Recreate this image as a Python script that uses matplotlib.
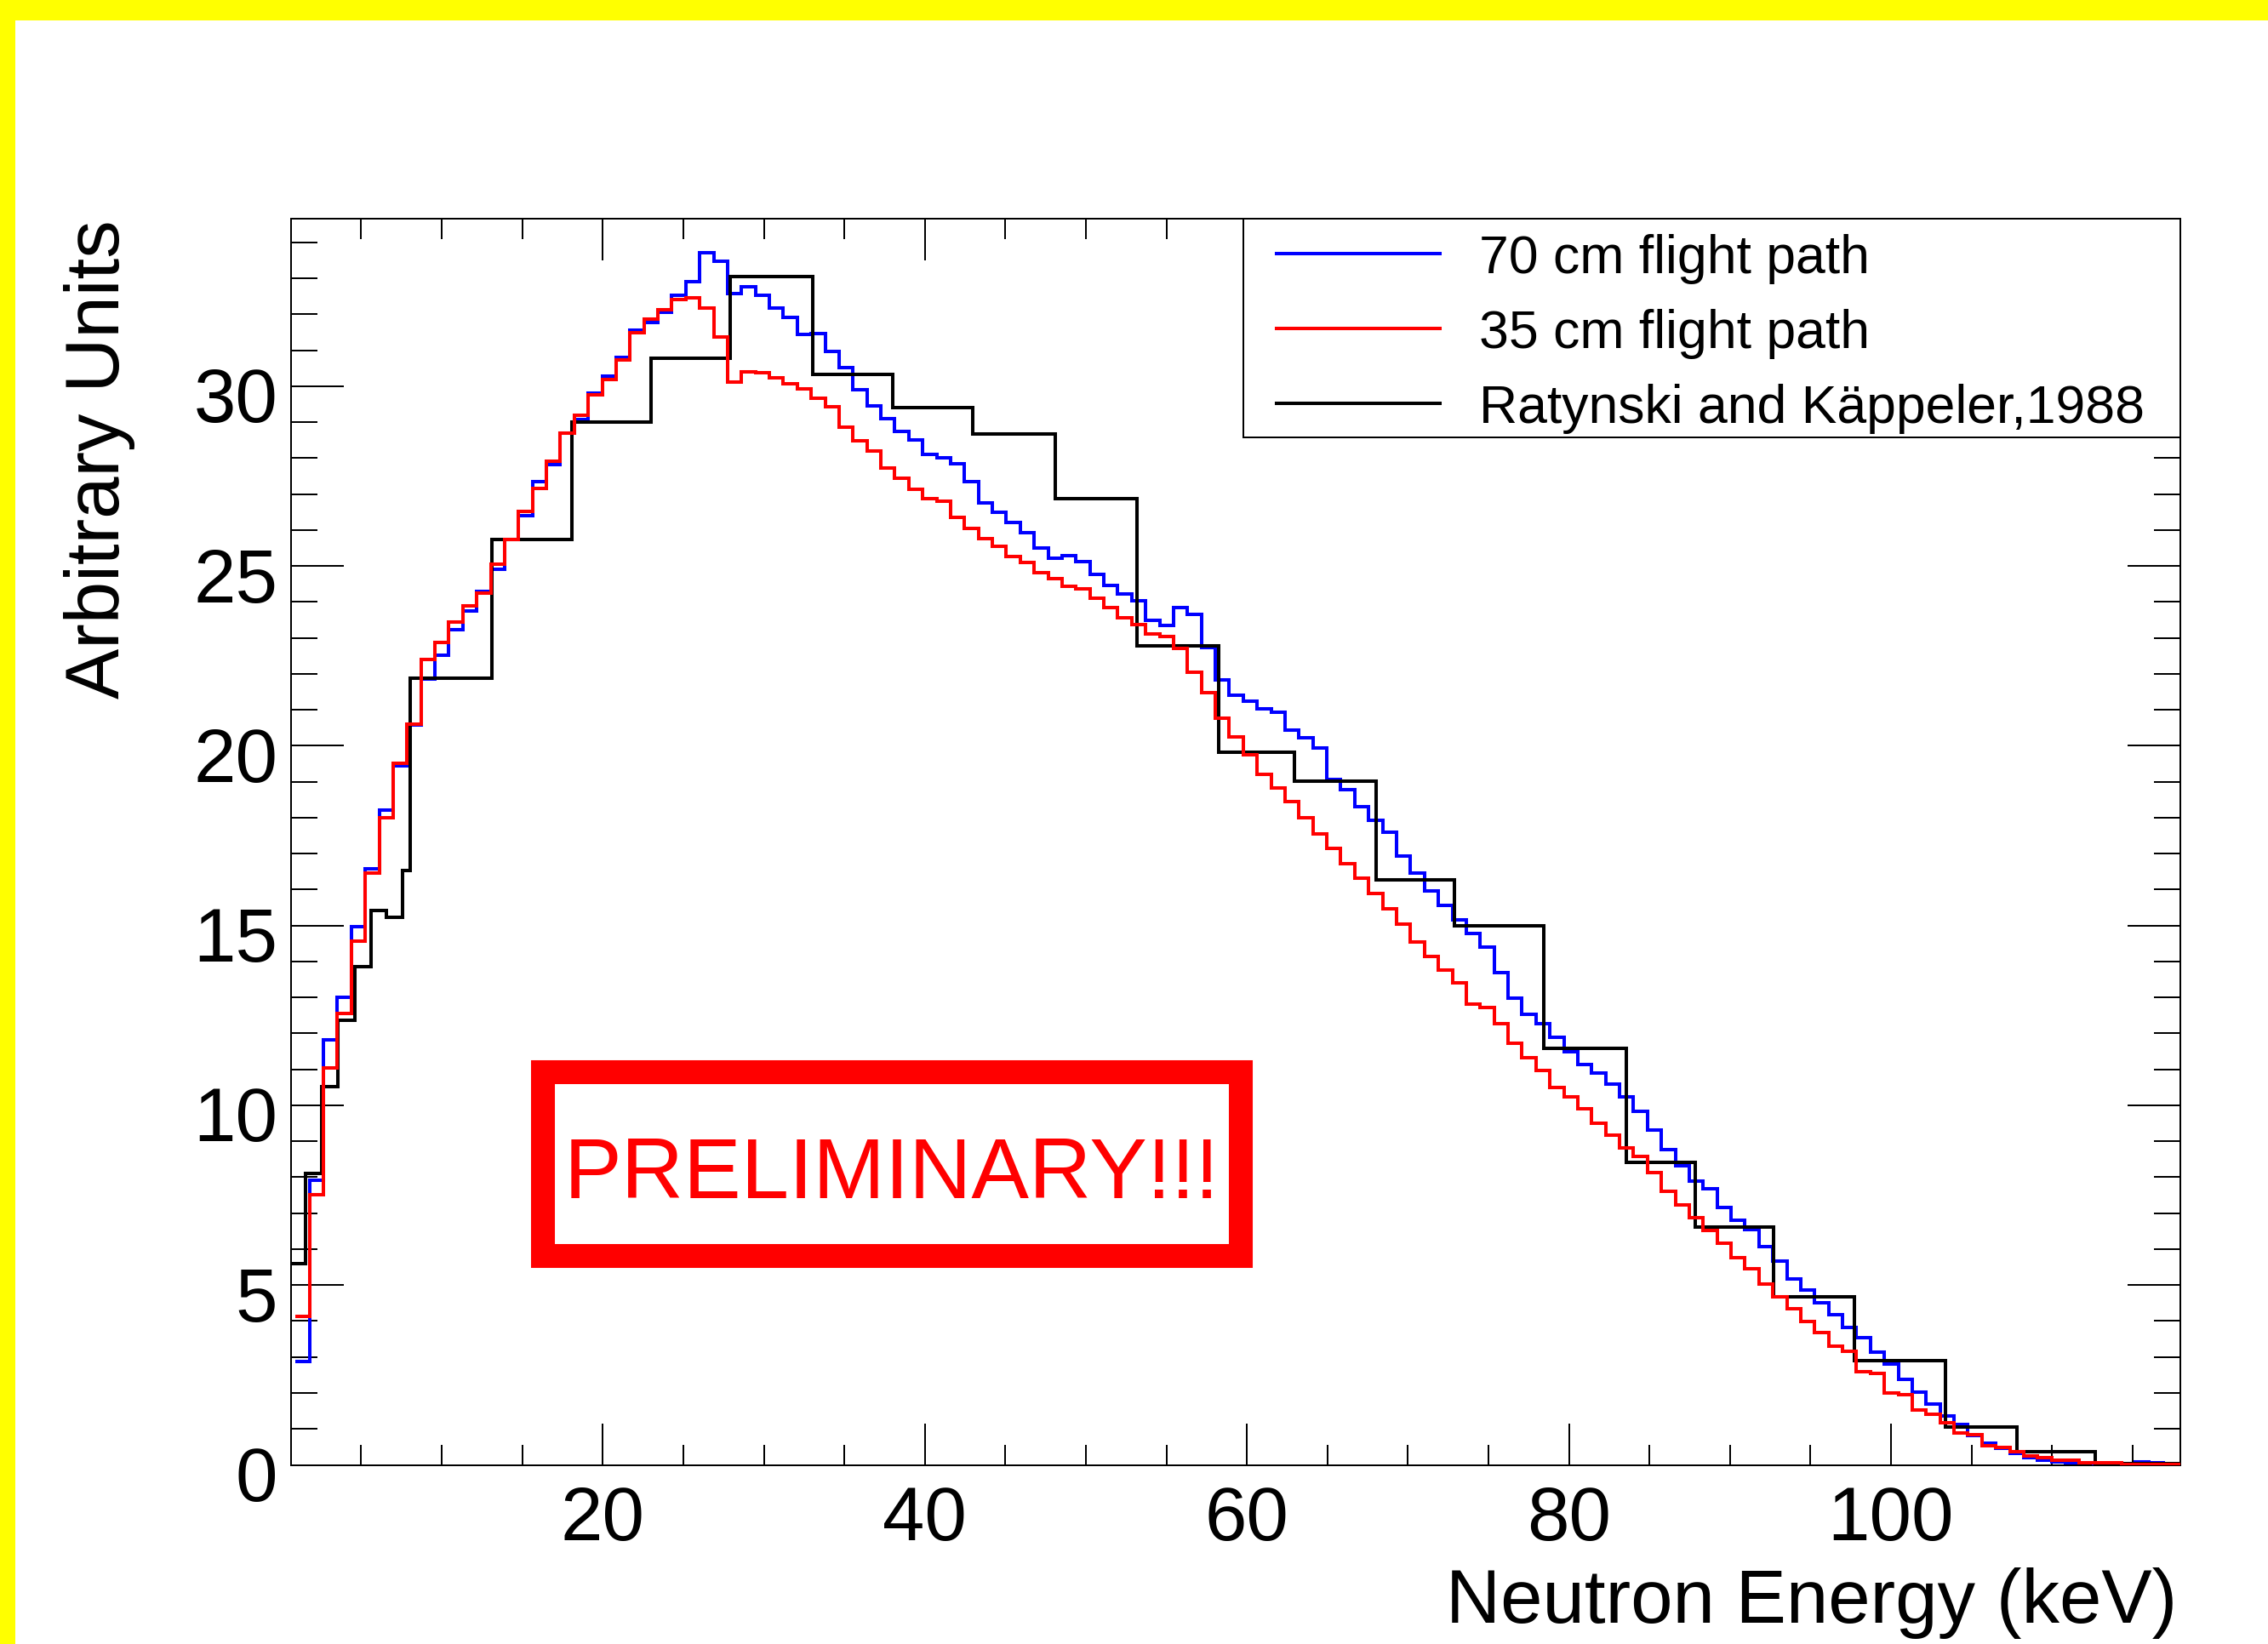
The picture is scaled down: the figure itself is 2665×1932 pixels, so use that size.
import numpy as np
import matplotlib
matplotlib.use("Agg")
import matplotlib.pyplot as plt
from matplotlib.patches import Rectangle
from matplotlib.lines import Line2D
from matplotlib.transforms import ScaledTranslation

plt.rcParams['font.family'] = ['Liberation Sans', 'DejaVu Sans']

# ---------------- data ----------------
bin_start = 0.92      # keV, low edge of first bin of the measured spectra
bin_width = 0.8655    # keV

flux_70cm = [
    2.88, 7.92, 11.81, 13.00, 14.98, 16.58, 18.20, 19.45, 20.58, 21.86,
    22.51, 23.23, 23.76, 24.30, 24.92, 25.73, 26.41, 27.34, 27.81, 28.70,
    29.08, 29.82, 30.27, 30.81, 31.56, 31.78, 32.05, 32.52, 32.92, 33.71,
    33.47, 32.57, 32.77, 32.52, 32.17, 31.91, 31.43, 31.47, 30.97, 30.51,
    29.91, 29.45, 29.10, 28.75, 28.50, 28.10, 28.00, 27.85, 27.35, 26.75,
    26.50, 26.20, 25.92, 25.50, 25.22, 25.28, 25.12, 24.77, 24.47, 24.23,
    24.04, 23.50, 23.35, 23.84, 23.66, 22.74, 21.84, 21.40, 21.23, 21.02,
    20.93, 20.43, 20.23, 19.93, 19.07, 18.78, 18.31, 17.93, 17.59, 16.94,
    16.45, 15.97, 15.57, 15.16, 14.78, 14.41, 13.68, 12.98, 12.54, 12.27,
    11.90, 11.50, 11.14, 10.90, 10.58, 10.24, 9.84, 9.31, 8.76, 8.31,
    7.89, 7.67, 7.17, 6.81, 6.55, 6.08, 5.68, 5.17, 4.87, 4.52,
    4.18, 3.83, 3.53, 3.14, 2.80, 2.39, 2.03, 1.70, 1.36, 1.12,
    0.81, 0.60, 0.45, 0.31, 0.19, 0.12, 0.08, 0.06, 0.05, 0.04,
    0.03, 0.03, 0.08, 0.06, 0.03, 0.02,
]

flux_35cm = [
    4.13, 7.51, 11.03, 12.56, 14.56, 16.45, 18.00, 19.52, 20.60, 22.39,
    22.88, 23.44, 23.90, 24.25, 25.04, 25.73, 26.53, 27.15, 27.91, 28.70,
    29.19, 29.75, 30.19, 30.73, 31.50, 31.86, 32.13, 32.42, 32.47, 32.17,
    31.38, 30.12, 30.41, 30.37, 30.24, 30.07, 29.93, 29.66, 29.43, 28.87,
    28.49, 28.19, 27.73, 27.45, 27.14, 26.88, 26.80, 26.35, 26.05, 25.75,
    25.54, 25.27, 25.11, 24.82, 24.66, 24.43, 24.37, 24.10, 23.84, 23.57,
    23.38, 23.10, 23.03, 22.71, 22.05, 21.47, 20.77, 20.25, 19.75, 19.21,
    18.82, 18.44, 18.00, 17.55, 17.15, 16.71, 16.31, 15.90, 15.46, 15.04,
    14.55, 14.15, 13.77, 13.41, 12.82, 12.73, 12.27, 11.72, 11.32, 10.98,
    10.50, 10.24, 9.90, 9.50, 9.16, 8.81, 8.58, 8.12, 7.62, 7.23,
    6.88, 6.53, 6.16, 5.77, 5.46, 5.03, 4.67, 4.34, 3.99, 3.69,
    3.29, 3.15, 2.60, 2.54, 1.99, 1.95, 1.52, 1.40, 1.16, 0.89,
    0.83, 0.53, 0.49, 0.36, 0.26, 0.20, 0.12, 0.12, 0.06, 0.06,
    0.06, 0.02, 0.02, 0.02, 0.02, 0.02,
]

ratynski_edges = [0.62, 1.54, 2.53, 3.57, 4.59, 5.59, 6.58, 7.55, 8.03, 13.09,
                  18.09, 23.00, 27.93, 33.04, 38.02, 43.00, 48.09, 53.19, 58.27, 62.97,
                  68.03, 72.90, 78.44, 83.55, 87.87, 92.70, 97.73, 103.40, 107.84, 112.70,
                  118.0]
ratynski_values = [5.60, 8.11, 10.53, 12.36, 13.86, 15.42, 15.22, 16.54, 21.89, 25.73,
                   29.01, 30.78, 33.06, 30.32, 29.41, 28.68, 26.88, 22.79, 19.82, 19.02,
                   16.26, 15.00, 11.59, 8.42, 6.62, 4.67, 2.90, 1.06, 0.36, 0.03]

series_labels = ['70 cm flight path', '35 cm flight path', 'Ratynski and K\u00e4ppeler,1988']
x_major_ticks = [20, 40, 60, 80, 100]
x_minor_ticks = list(range(5, 120, 5))
y_major_ticks = [0, 5, 10, 15, 20, 25, 30]
y_minor_ticks = list(range(0, 35, 1))
x_title = 'Neutron Energy (keV)'
y_title = 'Arbitrary Units'
stamp_text = 'PRELIMINARY!!!'

# ---------------- figure ----------------
W, H = 2665, 1933
fig = plt.figure(figsize=(W / 100, H / 100), dpi=100)
fig.patch.set_facecolor('white')

ax_l, ax_r, ax_t, ax_b = 341.6, 2562.0, 258.0, 1722.5
ax = fig.add_axes([ax_l / W, 1 - ax_b / H, (ax_r - ax_l) / W, (ax_b - ax_t) / H])

BLUE, RED = '#0000ff', '#ff0000'
LW = 2.9
edges = bin_start + bin_width * np.arange(len(flux_70cm) + 1)

ax.stairs(flux_70cm, edges, color=BLUE, lw=LW, baseline=None, zorder=3)
ax.stairs(ratynski_values, ratynski_edges, color='black', lw=LW, baseline=None, zorder=4)
ax.stairs(flux_35cm, edges, color=RED, lw=LW, baseline=None, zorder=5)

ax.set_xlim(0.62, 117.97)
ax.set_ylim(0, 34.66)

ax.set_xticks(x_major_ticks)
ax.set_xticks(x_minor_ticks, minor=True)
ax.set_yticks(y_major_ticks)
ax.set_yticks(y_minor_ticks, minor=True)

ax.tick_params(axis='x', which='major', direction='in', length=35.3, width=1.44,
               top=True, labelsize=64, pad=16)
ax.tick_params(axis='x', which='minor', direction='in', length=17.3, width=1.44, top=True)
ax.tick_params(axis='y', which='major', direction='in', length=44.6, width=1.44,
               right=True, labelsize=64, pad=11)
ax.tick_params(axis='y', which='minor', direction='in', length=22.3, width=1.44, right=True)
for sp in ax.spines.values():
    sp.set_linewidth(1.44)

shift = ScaledTranslation(0, -6.5 / 72, fig.dpi_scale_trans)
for lbl in ax.get_yticklabels():
    lbl.set_transform(lbl.get_transform() + shift)

def ax_x(px):
    return (px - ax_l) / (ax_r - ax_l)

def ax_y(py):
    return (ax_b - py) / (ax_b - ax_t)

# axis titles
ax.set_xlabel(x_title, fontsize=64, ha='right', va='baseline')
ax.xaxis.set_label_coords(ax_x(2558), ax_y(1907))
ax.set_ylabel(y_title, fontsize=64, rotation=90, rotation_mode='anchor', ha='right', va='center')
ax.yaxis.set_label_coords(ax_x(117.5), 1.0)

# legend
handles = [Line2D([], [], color=BLUE, lw=LW),
           Line2D([], [], color=RED, lw=LW),
           Line2D([], [], color='black', lw=LW)]
ax.add_patch(Rectangle((ax_x(1461), ax_y(515)), 1 - ax_x(1461), 1 - ax_y(515),
                       transform=ax.transAxes, facecolor='white', edgecolor='black',
                       lw=1.44, zorder=2, clip_on=False))
ax.legend(handles, series_labels, loc='upper left',
          bbox_to_anchor=(ax_x(1500), ax_y(275)), borderpad=0, borderaxespad=0,
          frameon=False, fontsize=45, handlelength=3.07, handletextpad=0.74,
          labelspacing=0.46)

# preliminary stamp
ax.add_patch(Rectangle((ax_x(638), ax_y(1476.5)), ax_x(1458) - ax_x(638),
                       ax_y(1260.5) - ax_y(1476.5), transform=ax.transAxes,
                       fill=False, edgecolor=RED, lw=20.2, joinstyle='miter', zorder=6))
ax.text(ax_x(1048), ax_y(1408), stamp_text, transform=ax.transAxes, ha='center',
        va='baseline', color=RED, fontsize=73, zorder=6)

# yellow slide border
fig.add_artist(Rectangle((0, 1 - 25 / H), 1, 25 / H, transform=fig.transFigure,
                         facecolor='#ffff00', edgecolor='none', zorder=10))
fig.add_artist(Rectangle((0, 0), 18 / W, 1, transform=fig.transFigure,
                         facecolor='#ffff00', edgecolor='none', zorder=10))

fig.savefig('out.png', dpi=100)
